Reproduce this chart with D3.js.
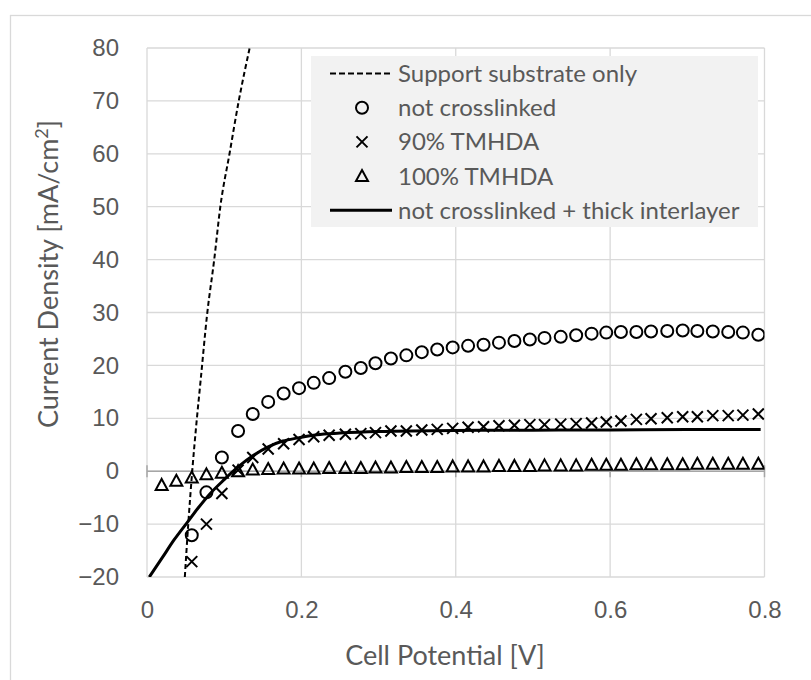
<!DOCTYPE html>
<html>
<head>
<meta charset="utf-8">
<script src="https://cdn.jsdelivr.net/npm/d3@7"></script>
<style>
  html, body { margin: 0; padding: 0; background: #fff; }
  svg { display: block; font-family: Lato, "Open Sans", sans-serif; }
  .tick text { fill: #595959; font-size: 24px; }
  .title { fill: #595959; font-size: 27px; }
  .legend text { fill: #595959; font-size: 24px; }
</style>
</head>
<body>
<svg id="chart" width="811" height="680"></svg>
<script>
// ---- data ----
const potential = [0.019, 0.038, 0.058, 0.077, 0.097, 0.118, 0.137, 0.157, 0.177, 0.197,
                   0.216, 0.236, 0.257, 0.277, 0.296, 0.316, 0.336, 0.356, 0.376, 0.396,
                   0.416, 0.436, 0.456, 0.476, 0.496, 0.515, 0.536, 0.556, 0.576, 0.595,
                   0.614, 0.634, 0.653, 0.674, 0.694, 0.713, 0.733, 0.753, 0.772, 0.792];

const notCrosslinked = [null, null, -12.1, -4.0, 2.6, 7.6, 10.8, 13.1, 14.7, 15.7,
                        16.7, 17.6, 18.8, 19.5, 20.4, 21.3, 21.9, 22.5, 23.0, 23.4,
                        23.7, 23.9, 24.3, 24.6, 24.9, 25.2, 25.4, 25.7, 26.0, 26.2,
                        26.3, 26.3, 26.4, 26.5, 26.6, 26.5, 26.4, 26.3, 26.2, 25.8];

const tmhda90 = [null, null, -17.1, -10.0, -4.2, 0.2, 2.6, 4.2, 5.2, 6.0,
                 6.5, 6.8, 7.0, 7.1, 7.3, 7.6, 7.6, 7.8, 7.9, 8.1,
                 8.3, 8.4, 8.6, 8.7, 8.8, 8.8, 8.9, 9.0, 9.1, 9.3,
                 9.5, 9.8, 9.9, 10.1, 10.3, 10.3, 10.5, 10.5, 10.6, 10.8];

const tmhda100 = [-2.6, -1.8, -1.2, -0.6, -0.3, 0.0, 0.3, 0.4, 0.5, 0.5,
                  0.5, 0.6, 0.6, 0.6, 0.7, 0.7, 0.8, 0.8, 0.8, 0.9,
                  0.9, 0.9, 1.0, 1.0, 1.0, 1.1, 1.1, 1.1, 1.2, 1.2,
                  1.2, 1.3, 1.3, 1.3, 1.3, 1.4, 1.4, 1.4, 1.4, 1.4];

const substrateV = [0.049, 0.0535, 0.0587, 0.064, 0.0695, 0.078, 0.087, 0.095, 0.107, 0.119, 0.133];
const substrateJ = [-20, -9.9, 0.2, 9.0, 17.2, 29.8, 39.9, 50.0, 60.1, 70.1, 80];

const interlayerV = [0.003, 0.02, 0.035, 0.051, 0.066, 0.082, 0.1, 0.118, 0.138, 0.157,
                     0.176, 0.196, 0.22, 0.25, 0.3, 0.4, 0.5, 0.6, 0.7, 0.795];
const interlayerJ = [-20, -16.3, -13.0, -9.9, -7.0, -4.2, -1.6, 0.8, 3.0, 4.6,
                     5.7, 6.3, 6.9, 7.2, 7.5, 7.7, 7.75, 7.8, 7.9, 7.9];

const xTicks = [0, 0.2, 0.4, 0.6, 0.8];
const yTicks = [-20, -10, 0, 10, 20, 30, 40, 50, 60, 70, 80];

const legendLabels = ["Support substrate only", "not crosslinked", "90% TMHDA",
                      "100% TMHDA", "not crosslinked + thick interlayer"];

// ---- layout ----
const svg = d3.select("#chart");
const plot = { left: 147, right: 764.5, top: 48, bottom: 577 };

const x = d3.scaleLinear().domain([0, 0.8]).range([plot.left, plot.right]);
const y = d3.scaleLinear().domain([-20, 80]).range([plot.bottom, plot.top]);

const gridColor = "#d9d9d9";
const axisColor = "#a6a6a6";
const ink = "#000";

// outer chart border (runs off the bottom/right of the picture)
svg.append("rect")
    .attr("x", 10.5).attr("y", 15.5)
    .attr("width", 830).attr("height", 700)
    .attr("fill", "none").attr("stroke", gridColor).attr("stroke-width", 1.3);

svg.append("defs").append("clipPath").attr("id", "plot-clip")
    .append("rect")
    .attr("x", plot.left).attr("y", plot.top)
    .attr("width", plot.right - plot.left).attr("height", plot.bottom - plot.top);

// gridlines
const grid = svg.append("g");
grid.selectAll("line.h").data(yTicks).join("line")
    .attr("class", "h")
    .attr("x1", plot.left).attr("x2", plot.right)
    .attr("y1", d => y(d)).attr("y2", d => y(d))
    .attr("stroke", gridColor).attr("stroke-width", 1.3);
grid.selectAll("line.v").data(xTicks).join("line")
    .attr("class", "v")
    .attr("x1", d => x(d)).attr("x2", d => x(d))
    .attr("y1", plot.top).attr("y2", plot.bottom)
    .attr("stroke", gridColor).attr("stroke-width", 1.3);

// horizontal axis at J = 0 with crossing tick marks
const xAxisLine = svg.append("g");
xAxisLine.append("line")
    .attr("x1", plot.left).attr("x2", plot.right)
    .attr("y1", y(0)).attr("y2", y(0))
    .attr("stroke", axisColor).attr("stroke-width", 1.5);
xAxisLine.selectAll("line.tk").data(xTicks).join("line")
    .attr("class", "tk")
    .attr("x1", d => x(d)).attr("x2", d => x(d))
    .attr("y1", y(0) - 6).attr("y2", y(0) + 6)
    .attr("stroke", axisColor).attr("stroke-width", 1.5);

// tick labels through d3 axes
const fmtX = d => d === 0 ? "0" : d.toFixed(1);
const fmtY = d => d < 0 ? "\u2212" + Math.abs(d) : String(d);

svg.append("g")
    .attr("transform", `translate(0,${plot.bottom})`)
    .call(d3.axisBottom(x).tickValues(xTicks).tickFormat(fmtX).tickSize(0).tickPadding(24))
    .call(g => g.select(".domain").remove())
    .selectAll("text").attr("font-family", null).attr("font-size", null);

svg.append("g")
    .attr("transform", `translate(${plot.left},0)`)
    .call(d3.axisLeft(y).tickValues(yTicks).tickFormat(fmtY).tickSize(0).tickPadding(28))
    .call(g => g.select(".domain").remove())
    .selectAll("text").attr("font-family", null).attr("font-size", null);

// axis titles
svg.append("text").attr("class", "title")
    .attr("x", 445).attr("y", 665)
    .attr("text-anchor", "middle")
    .text("Cell Potential [V]");

const yTitle = svg.append("text").attr("class", "title")
    .attr("transform", "translate(58,274) rotate(-90)")
    .attr("text-anchor", "middle");
yTitle.append("tspan").text("Current Density [mA/cm");
yTitle.append("tspan").attr("dy", -10).attr("font-size", 18).text("2");
yTitle.append("tspan").attr("dy", 10).text("]");

// ---- series ----
const marks = svg.append("g").attr("clip-path", "url(#plot-clip)");

const substrate = substrateV.map((v, i) => [v, substrateJ[i]]);
const interlayer = interlayerV.map((v, i) => [v, interlayerJ[i]]);
const pick = arr => potential.map((v, i) => [v, arr[i]]).filter(d => d[1] !== null);

const line = d3.line().x(d => x(d[0])).y(d => y(d[1])).curve(d3.curveMonotoneX);

marks.append("path").datum(substrate)
    .attr("d", line)
    .attr("fill", "none").attr("stroke", ink)
    .attr("stroke-width", 2).attr("stroke-dasharray", "5,3");

marks.append("path").datum(interlayer)
    .attr("d", line)
    .attr("fill", "none").attr("stroke", ink)
    .attr("stroke-width", 3);

function circleMark(sel) {
    sel.append("circle").attr("r", 6)
        .attr("fill", "none").attr("stroke", ink).attr("stroke-width", 2);
}
function crossMark(sel) {
    sel.append("path").attr("d", "M-5.5,-5.5L5.5,5.5M-5.5,5.5L5.5,-5.5")
        .attr("fill", "none").attr("stroke", ink).attr("stroke-width", 2);
}
function triangleMark(sel) {
    sel.append("path").attr("d", "M0,-6L6,5L-6,5Z")
        .attr("fill", "none").attr("stroke", ink).attr("stroke-width", 2)
        .attr("stroke-linejoin", "miter");
}

marks.selectAll("g.tri").data(pick(tmhda100)).join("g")
    .attr("class", "tri")
    .attr("transform", d => `translate(${x(d[0])},${y(d[1])})`)
    .call(triangleMark);

marks.selectAll("g.crs").data(pick(tmhda90)).join("g")
    .attr("class", "crs")
    .attr("transform", d => `translate(${x(d[0])},${y(d[1])})`)
    .call(crossMark);

marks.selectAll("g.circ").data(pick(notCrosslinked)).join("g")
    .attr("class", "circ")
    .attr("transform", d => `translate(${x(d[0])},${y(d[1])})`)
    .call(circleMark);

// ---- legend ----
const legend = svg.append("g").attr("class", "legend");
legend.append("rect")
    .attr("x", 311).attr("y", 56).attr("width", 447).attr("height", 171)
    .attr("fill", "#f2f2f2");

const rowY = i => 73.5 + i * 34.2;
const symX0 = 330, symX1 = 392, symMid = 362;

legend.selectAll("text").data(legendLabels).join("text")
    .attr("x", 398).attr("y", (d, i) => rowY(i) + 8.5)
    .text(d => d);

legend.append("line")
    .attr("x1", symX0).attr("x2", symX1).attr("y1", rowY(0)).attr("y2", rowY(0))
    .attr("stroke", ink).attr("stroke-width", 2).attr("stroke-dasharray", "6,3");
legend.append("g").attr("transform", `translate(${symMid},${rowY(1)})`).call(circleMark);
legend.append("g").attr("transform", `translate(${symMid},${rowY(2)})`).call(crossMark);
legend.append("g").attr("transform", `translate(${symMid},${rowY(3)})`).call(triangleMark);
legend.append("line")
    .attr("x1", symX0).attr("x2", symX1).attr("y1", rowY(4)).attr("y2", rowY(4))
    .attr("stroke", ink).attr("stroke-width", 3);
</script>
</body>
</html>
